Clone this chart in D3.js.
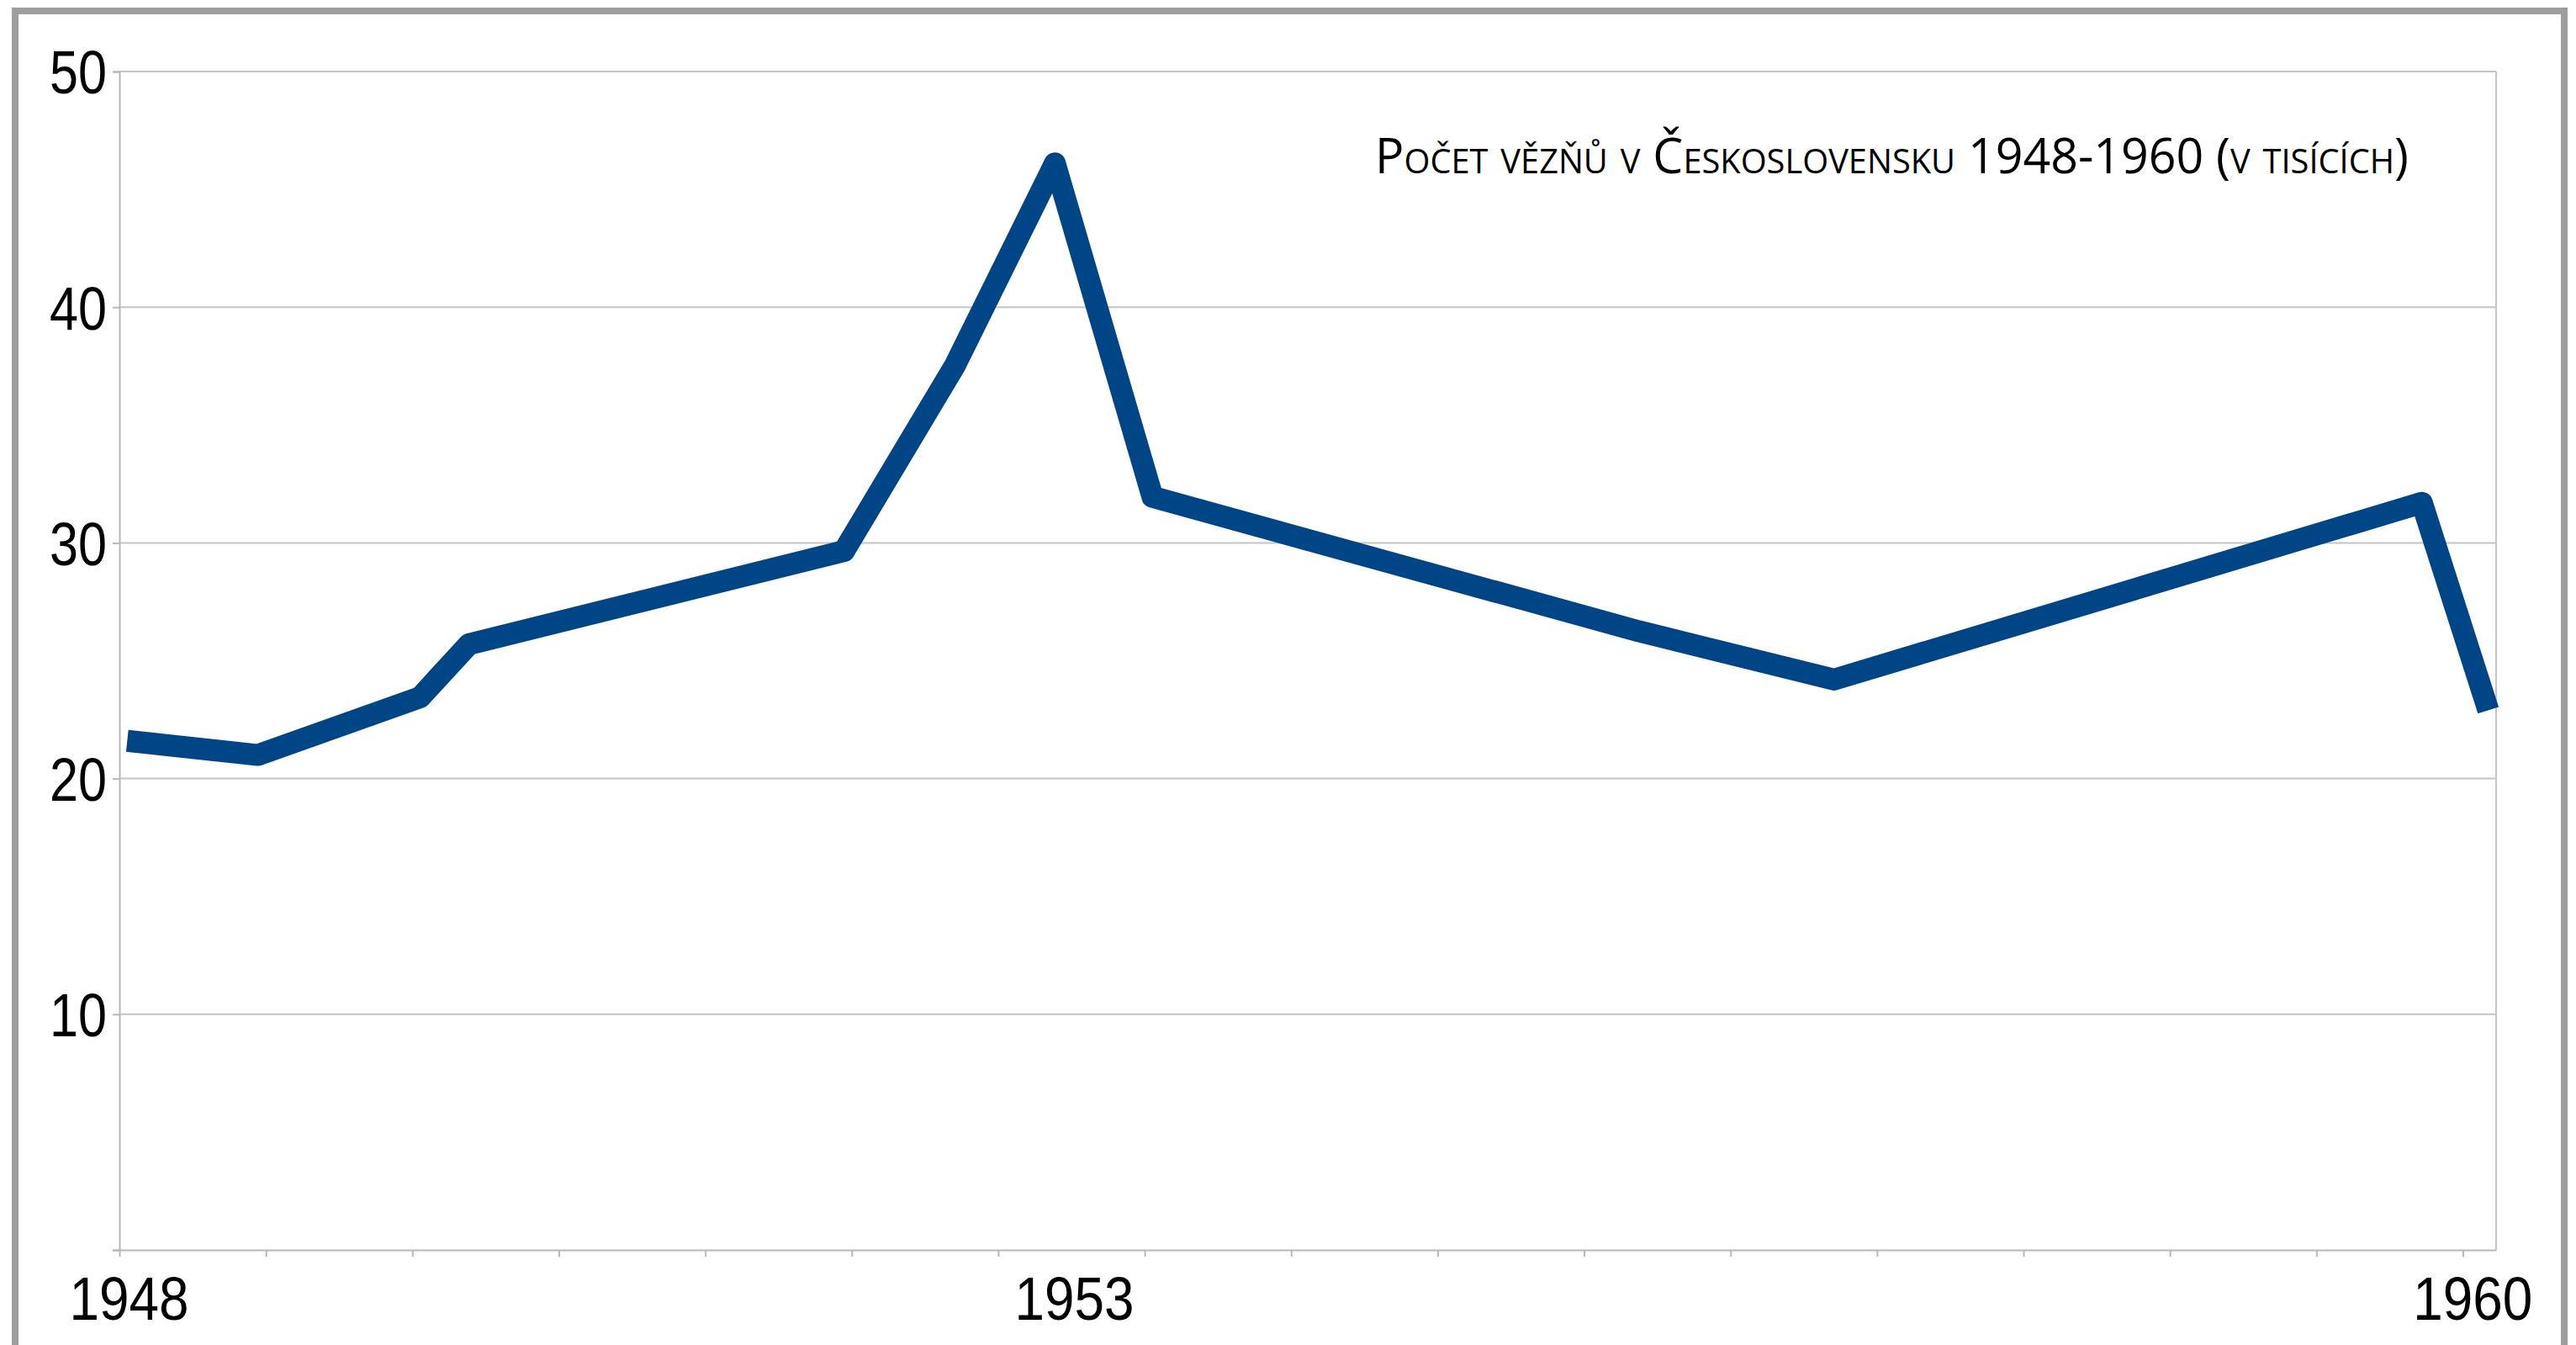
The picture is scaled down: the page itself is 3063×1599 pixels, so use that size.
<!DOCTYPE html>
<html>
<head>
<meta charset="utf-8">
<script src="https://cdn.jsdelivr.net/npm/d3@7"></script>
<style>
  html, body { margin: 0; padding: 0; background: #fff; }
  svg { display: block; }
</style>
</head>
<body>
<div id="chart"></div>
<script>
// Počet vězňů v Československu 1948-1960 (v tisících)
const years = [1948.04, 1948.71, 1949.54, 1949.79, 1951.71, 1952.28, 1952.79, 1953.29, 1955.78, 1956.78, 1959.79, 1960.13]
const prisoners = [21.6, 21.0, 23.45, 25.7, 29.65, 37.55, 46.1, 31.95, 26.25, 24.2, 31.7, 22.9]

const yTicks = [0, 10, 20, 30, 40, 50]
const xLabels = ['1948', '1953', '1960']
const xLabelYears = [1948.05, 1952.89, 1960.05]
const title = 'Počet vězňů v Československu 1948-1960 (v tisících)'

const W = 3063, H = 1599
const plotLeft = 142, plotRight = 2968, plotTop = 85, plotBottom = 1486
const font = '"Liberation Sans Narrow", "Liberation Sans", sans-serif'

const svg = d3.select('#chart').append('svg')
  .attr('width', W)
  .attr('height', H)

// outer frame (bottom edge is off the picture)
svg.append('rect')
  .attr('x', 18).attr('y', 13)
  .attr('width', 3031).attr('height', 1640)
  .attr('fill', 'none')
  .attr('stroke', '#9e9e9e')
  .attr('stroke-width', 8)

const x = d3.scaleLinear().domain([1948, 1960.17]).range([plotLeft, plotRight])
const y = d3.scaleLinear().domain([0, 50]).range([plotBottom, plotTop])

// horizontal grid
svg.append('g')
  .selectAll('line')
  .data(yTicks.slice(1))
  .join('line')
  .attr('x1', plotLeft).attr('x2', plotRight)
  .attr('y1', d => y(d)).attr('y2', d => y(d))
  .attr('stroke', '#c4c4c4')
  .attr('stroke-width', 2)

// right edge of plot area
svg.append('line')
  .attr('x1', plotRight).attr('x2', plotRight)
  .attr('y1', plotTop).attr('y2', plotBottom)
  .attr('stroke', '#c4c4c4')
  .attr('stroke-width', 2)

// y axis
const yAxis = svg.append('g')
  .attr('transform', `translate(${plotLeft},0)`)
  .call(d3.axisLeft(y)
    .tickValues(yTicks)
    .tickSize(8)
    .tickPadding(7)
    .tickFormat(d => d === 0 ? '' : d))
yAxis.select('.domain').attr('stroke', '#b8b8b8').attr('stroke-width', 2)
yAxis.selectAll('.tick line').attr('stroke', '#b8b8b8').attr('stroke-width', 2)
yAxis.selectAll('.tick text')
  .filter(d => d !== 0)
  .attr('font-family', font)
  .attr('font-size', 72)
  .attr('fill', '#000')
  .attr('dy', '0.36em')
  .attr('textLength', 68)
  .attr('lengthAdjust', 'spacingAndGlyphs')

// x axis, minor ticks every 0.75 year
const xTickStep = 0.75
const xAxis = svg.append('g')
  .attr('transform', `translate(0,${plotBottom})`)
  .call(d3.axisBottom(x)
    .tickValues(d3.range(0, 17).map(i => 1948 + i * xTickStep))
    .tickSize(8)
    .tickSizeOuter(0)
    .tickFormat(''))
xAxis.select('.domain').attr('stroke', '#b8b8b8').attr('stroke-width', 2)
xAxis.selectAll('.tick line').attr('stroke', '#b8b8b8').attr('stroke-width', 2)

// x labels
svg.append('g')
  .selectAll('text')
  .data(xLabels)
  .join('text')
  .attr('x', (d, i) => x(xLabelYears[i]))
  .attr('y', 1569)
  .attr('text-anchor', 'middle')
  .attr('font-family', font)
  .attr('font-size', 72)
  .attr('fill', '#000')
  .attr('textLength', 142)
  .attr('lengthAdjust', 'spacingAndGlyphs')
  .text(d => d)

// series line
const line = d3.line()
  .x((d, i) => x(years[i]))
  .y(d => y(d))

svg.append('path')
  .datum(prisoners)
  .attr('d', line)
  .attr('fill', 'none')
  .attr('stroke', '#004586')
  .attr('stroke-width', 26)
  .attr('stroke-linejoin', 'round')
  .attr('stroke-linecap', 'butt')

// title
svg.append('text')
  .attr('x', 1635)
  .attr('y', 206)
  .attr('font-family', '"Open Sans", sans-serif')
  .attr('font-size', 59)
  .attr('font-variant', 'small-caps')
  .attr('fill', '#000')
  .attr('textLength', 1229)
  .attr('lengthAdjust', 'spacingAndGlyphs')
  .text(title)
</script>
</body>
</html>
